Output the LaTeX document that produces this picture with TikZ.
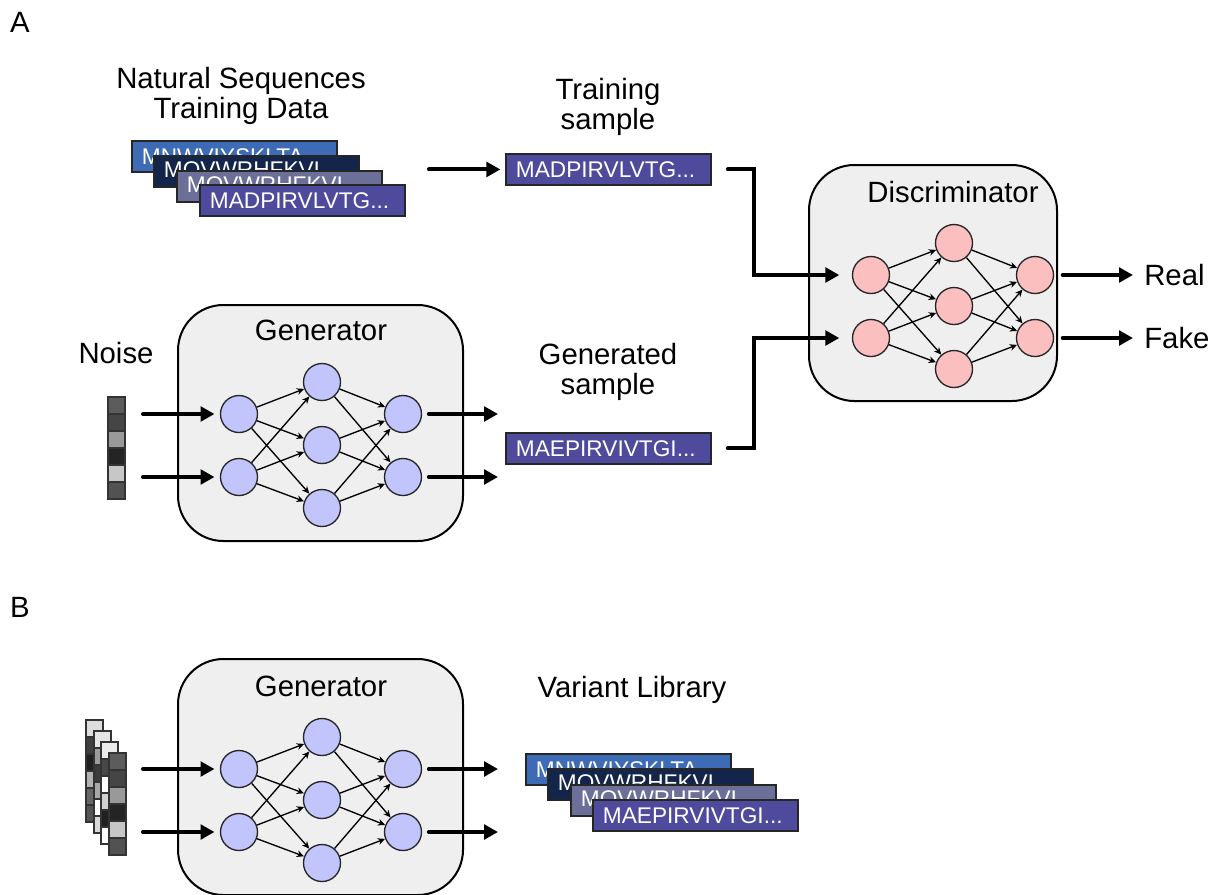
\documentclass[tikz,border=0pt]{standalone}
\usepackage{fontspec}
\setmainfont{Liberation Sans}
\usetikzlibrary{arrows.meta}
\definecolor{seqA}{HTML}{3D6BB5}
\definecolor{seqB}{HTML}{13254A}
\definecolor{seqC}{HTML}{6C7098}
\definecolor{seqD}{HTML}{4E4A9C}
\definecolor{boxfill}{HTML}{EFEFEF}
\definecolor{gnode}{HTML}{C1C5FB}
\definecolor{dnode}{HTML}{FBBFBF}
\newcommand\noisecol[3]{%
  \foreach \c [count=\k from 0] in {#3}
    \filldraw[fill=\c, draw=black!80, line width=1pt] (#1,#2+17*\k) rectangle ++(17,17);
}
\newcommand\drawnet[4]{% prefix, fill, x0, y0
  \foreach \i/\dy in {1/0,2/63} \node[nn,fill=#2] (#1a\i) at (#3,#4+\dy) {};
  \foreach \i/\dy in {1/-32,2/31,3/94} \node[nn,fill=#2] (#1b\i) at (#3+83,#4+\dy) {};
  \foreach \i/\dy in {1/0,2/63} \node[nn,fill=#2] (#1c\i) at (#3+164,#4+\dy) {};
  \foreach \i in {1,2} \foreach \j in {1,2,3} \draw[edge] (#1a\i) -- (#1b\j);
  \foreach \j in {1,2,3} \foreach \i in {1,2} \draw[edge] (#1b\j) -- (#1c\i);
}
\begin{document}
\begin{tikzpicture}[x=0.75pt,y=-0.75pt,
  lbl/.style={font=\fontsize{22}{22}\selectfont, align=center, inner sep=0pt},
  seqbox/.style={draw=black!85, line width=1.4pt, anchor=north west, text=white,
    minimum width=153.75pt, minimum height=23.25pt, inner xsep=7.5pt, inner ysep=0pt,
    text width=138.75pt, align=left, font=\fontsize{17}{17}\selectfont},
  netbox/.style={draw=black, line width=1.5pt, fill=boxfill, rounded corners=34pt,
    minimum width=213.75pt, minimum height=177pt},
  nn/.style={circle, draw=black!85, line width=1pt, minimum size=27.75pt, inner sep=0pt},
  edge/.style={line width=1pt, -{Stealth[length=5.5pt,width=5pt]}},
  big/.style={line width=3pt, line cap=round, -{Triangle[length=10.5pt,width=11pt]}}]
\clip (0,0) rectangle (1217,894);
\fill[white] (0,0) rectangle (1217,894);

% Labels
\node[lbl] (labA) at (20,22) {A};
\node[lbl] (labB) at (20,607) {B};
\node[lbl] (natlbl) at (241,96) {Natural Sequences\\Training Data};
\node[lbl] (trlbl) at (608,107) {Training\\sample};
\node[lbl] (noiselbl) at (116,353) {Noise};
\node[lbl] (genlbl) at (608,372) {Generated\\sample};
\node[lbl] (varlbl) at (632,690) {Variant Library};

% Sequence stack A
\node[seqbox, fill=seqA] (s1) at (131,140) {MNWVIYSKLTA...};
\node[seqbox, fill=seqB] (s2) at (153,155) {MQVWRHFKVL...};
\node[seqbox, fill=seqC] (s3) at (176,170) {MQVWRHFKVL...};
\node[seqbox, fill=seqD] (s4) at (199,184) {MADPIRVLVTG...};

\node[seqbox, fill=seqD] (ts) at (505,153) {MADPIRVLVTG...};
\node[seqbox, fill=seqD] (gs) at (505,432) {MAEPIRVIVTGI...};

% Generator A
\node[netbox] (genA) at (320.5,423) {};
\node[lbl] (genAlbl) at (321,330) {Generator};
\drawnet{gA}{gnode}{239}{414}

% Discriminator
\node[netbox, minimum width=186pt] (disc) at (933,283) {};
\node[lbl] (disclbl) at (953,192) {Discriminator};
\drawnet{dA}{dnode}{871}{275}

% Noise A
\noisecol{108}{397}{black!64,black!73,black!40,black!86,black!22,black!68}

% Arrows A
\coordinate (nsout) at ([xshift=-57pt]ts.west);
\draw[big, shorten >=3.5pt] (nsout) -- (ts.west);
\coordinate (nA1) at (143,414);
\coordinate (nA2) at (143,477);
\draw[big, shorten >=4pt] (nA1) -- (gAa1);
\draw[big, shorten >=4pt] (nA2) -- (gAa2);
\coordinate (oA1) at (498,414);
\coordinate (oA2) at (498,477);
\draw[big, shorten <=5pt] (gAc1) -- (oA1);
\draw[big, shorten <=5pt] (gAc2) -- (oA2);
\draw[big, shorten <=12pt, shorten >=9.4pt] (ts.east) -- ++(42,0) |- (dAa1);
\draw[big, shorten <=12pt, shorten >=9.4pt] (gs.east) -- ++(42,0) |- (dAa2);
\coordinate (real) at (1133,275);
\coordinate (fake) at (1133,338);
\draw[big, shorten <=6.4pt] (dAc1) -- (real);
\draw[big, shorten <=6.4pt] (dAc2) -- (fake);
\node[lbl, anchor=west] (reallbl) at (1144,275) {Real};
\node[lbl, anchor=west] (fakelbl) at (1144,338) {Fake};

% Part B
\node[netbox] (genB) at (320.5,777) {};
\node[lbl] (genBlbl) at (321,686) {Generator};
\drawnet{gB}{gnode}{239}{769}

\noisecol{86}{720}{black!13,black!75,black!88,black!30,black!60,black!67}
\noisecol{94}{731}{black!10,black!39,black!77,black!34,white,black!15}
\noisecol{101}{742}{black!8,black!72,white,black!18,black!87,white}
\noisecol{109}{753}{black!64,black!73,black!40,black!86,black!22,black!68}

\coordinate (nB1) at (143,769);
\coordinate (nB2) at (143,832);
\draw[big, shorten >=4pt] (nB1) -- (gBa1);
\draw[big, shorten >=4pt] (nB2) -- (gBa2);
\coordinate (oB1) at (498,769);
\coordinate (oB2) at (498,832);
\draw[big, shorten <=5pt] (gBc1) -- (oB1);
\draw[big, shorten <=5pt] (gBc2) -- (oB2);

\node[seqbox, fill=seqA] (v1) at (525,753) {MNWVIYSKLTA...};
\node[seqbox, fill=seqB] (v2) at (547,768) {MQVWRHFKVL...};
\node[seqbox, fill=seqC] (v3) at (570,784) {MQVWRHFKVL...};
\node[seqbox, fill=seqD] (v4) at (592,799) {MAEPIRVIVTGI...};
\end{tikzpicture}
\end{document}
